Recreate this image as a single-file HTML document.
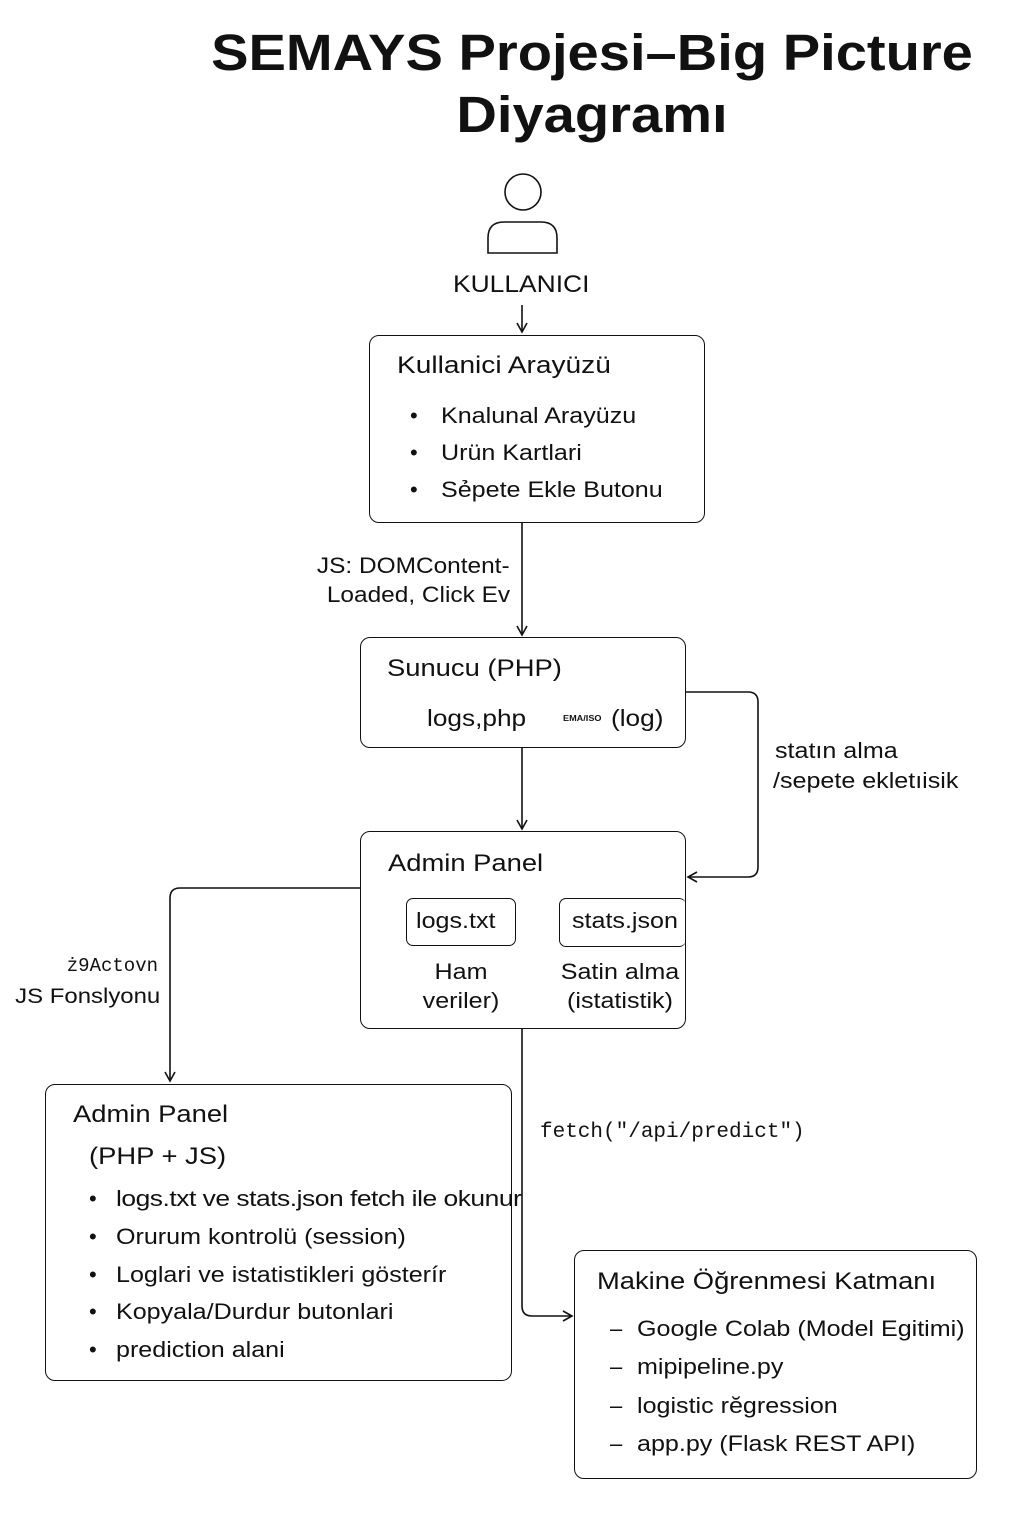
<!DOCTYPE html>
<html><head><meta charset="utf-8"><style>
body{margin:0;width:1024px;height:1536px;background:#fff;position:relative;font-family:"Liberation Sans","DejaVu Sans",sans-serif;color:#111;overflow:hidden}
.t{position:absolute;white-space:nowrap;line-height:1;transform:scaleX(1.14);transform-origin:left center}
.r{transform-origin:right center}
.c{transform-origin:center center}
.b{position:absolute;border:1.6px solid #111;border-radius:10px;box-sizing:border-box}
.m{font-family:"Liberation Mono",monospace;transform:none}
.d{position:absolute;line-height:1;font-size:22px}
</style></head><body>
<div class="t c" style="left:0;width:1184px;text-align:center;top:27px;font-size:51px;font-weight:bold;transform:scaleX(1.1)">SEMAYS Projesi–Big Picture</div>
<div class="t c" style="left:0;width:1184px;text-align:center;top:89px;font-size:51px;font-weight:bold;transform:scaleX(1.1)">Diyagramı</div>

<svg width="1024" height="1536" style="position:absolute;left:0;top:0" fill="none" stroke="#111" stroke-width="1.6">
<defs><marker id="a" markerWidth="12" markerHeight="12" refX="10" refY="6" orient="auto" markerUnits="userSpaceOnUse"><path d="M1,1 L10,6 L1,11" stroke="#111" stroke-width="1.6" fill="none"/></marker></defs>
<circle cx="523" cy="192" r="18"/>
<path d="M488,253 V238 Q488,222 504,222 H541 Q557,222 557,238 V253 Z"/>
<line x1="522" y1="305" x2="522" y2="332" marker-end="url(#a)"/>
<line x1="522" y1="522" x2="522" y2="635" marker-end="url(#a)"/>
<line x1="522" y1="748" x2="522" y2="829" marker-end="url(#a)"/>
<path d="M686,692 H748 Q758,692 758,702 V867 Q758,877 748,877 H688" marker-end="url(#a)"/>
<path d="M360,888 H180 Q170,888 170,898 V1081" marker-end="url(#a)"/>
<path d="M522,1028 V1306 Q522,1316 532,1316 H572" marker-end="url(#a)"/>
</svg>

<div class="t" style="left:453px;top:273px;font-size:24px;transform:scaleX(1.1)">KULLANICI</div>

<div class="b" style="left:369px;top:335px;width:336px;height:188px"></div>
<div class="t" style="left:397px;top:354px;font-size:24px;transform:scaleX(1.17)">Kullanici Arayüzü</div>
<div class="d" style="left:410px;top:405px">•</div><div class="t" style="left:441px;top:405px;font-size:22px">Knalunal Arayüzu</div>
<div class="d" style="left:410px;top:442px">•</div><div class="t" style="left:441px;top:442px;font-size:22px">Urün Kartlari</div>
<div class="d" style="left:410px;top:479px">•</div><div class="t" style="left:441px;top:479px;font-size:22px">Sẻpete Ekle Butonu</div>

<div class="t r" style="right:514px;top:555px;font-size:22px;transform:scaleX(1.11)">JS: DOMContent-</div>
<div class="t r" style="right:514px;top:584px;font-size:22px;transform:scaleX(1.11)">Loaded, Click Ev</div>

<div class="b" style="left:360px;top:637px;width:326px;height:111px"></div>
<div class="t" style="left:387px;top:657px;font-size:24px">Sunucu (PHP)</div>
<div class="t" style="left:427px;top:707px;font-size:23px">logs,php</div>
<div class="t" style="left:563px;top:715px;font-size:8px;font-weight:bold">EMA/ISO</div>
<div class="t" style="left:611px;top:707px;font-size:23px">(log)</div>

<div class="t" style="left:775px;top:740px;font-size:22px">statın alma</div>
<div class="t" style="left:773px;top:770px;font-size:22px">/sepete ekletıisik</div>

<div class="b" style="left:360px;top:831px;width:326px;height:198px"></div>
<div class="t" style="left:388px;top:852px;font-size:24px">Admin Panel</div>
<div class="b" style="left:406px;top:898px;width:110px;height:48px;border-radius:7px"></div>
<div class="t" style="left:416px;top:910px;font-size:22px">logs.txt</div>
<div class="b" style="left:559px;top:898px;width:127px;height:49px;border-radius:7px;border-right:none"></div>
<div class="t" style="left:572px;top:910px;font-size:22px">stats.json</div>
<div class="t c" style="left:401px;width:120px;text-align:center;top:961px;font-size:22px">Ham</div>
<div class="t c" style="left:401px;width:120px;text-align:center;top:990px;font-size:22px">veriler)</div>
<div class="t c" style="left:555px;width:130px;text-align:center;top:961px;font-size:22px">Satin alma</div>
<div class="t c" style="left:555px;width:130px;text-align:center;top:990px;font-size:22px">(istatistik)</div>

<div class="t m" style="right:866px;top:957px;font-size:19px">ż9Actovn</div>
<div class="t r" style="right:864px;top:986px;font-size:21px">JS Fonslyonu</div>

<div class="t m" style="left:540px;top:1122px;font-size:21px">fetch("/api/predict")</div>

<div class="b" style="left:45px;top:1084px;width:467px;height:297px"></div>
<div class="t" style="left:73px;top:1103px;font-size:24px">Admin Panel</div>
<div class="t" style="left:89px;top:1145px;font-size:24px">(PHP + JS)</div>
<div class="d" style="left:89px;top:1188px">•</div><div class="t" style="left:116px;top:1188px;font-size:22px;letter-spacing:-0.4px;transform:scaleX(1.2)">logs.txt ve stats.json fetch ile okunur</div>
<div class="d" style="left:89px;top:1226px">•</div><div class="t" style="left:116px;top:1226px;font-size:22px">Orurum kontrolü (session)</div>
<div class="d" style="left:89px;top:1264px">•</div><div class="t" style="left:116px;top:1264px;font-size:22px">Loglari ve istatistikleri gösterír</div>
<div class="d" style="left:89px;top:1301px">•</div><div class="t" style="left:116px;top:1301px;font-size:22px">Kopyala/Durdur butonlari</div>
<div class="d" style="left:89px;top:1339px">•</div><div class="t" style="left:116px;top:1339px;font-size:22px">prediction alani</div>

<div class="b" style="left:574px;top:1250px;width:403px;height:229px"></div>
<div class="t" style="left:597px;top:1270px;font-size:24px">Makine Öğrenmesi Katmanı</div>
<div class="d" style="left:610px;top:1318px">–</div><div class="t" style="left:637px;top:1318px;font-size:22px">Google Colab (Model Egitimi)</div>
<div class="d" style="left:610px;top:1356px">–</div><div class="t" style="left:637px;top:1356px;font-size:22px">mipipeline.py</div>
<div class="d" style="left:610px;top:1395px">–</div><div class="t" style="left:637px;top:1395px;font-size:22px">logistic rĕgression</div>
<div class="d" style="left:610px;top:1433px">–</div><div class="t" style="left:637px;top:1433px;font-size:22px">app.py (Flask REST API)</div>
</body></html>
